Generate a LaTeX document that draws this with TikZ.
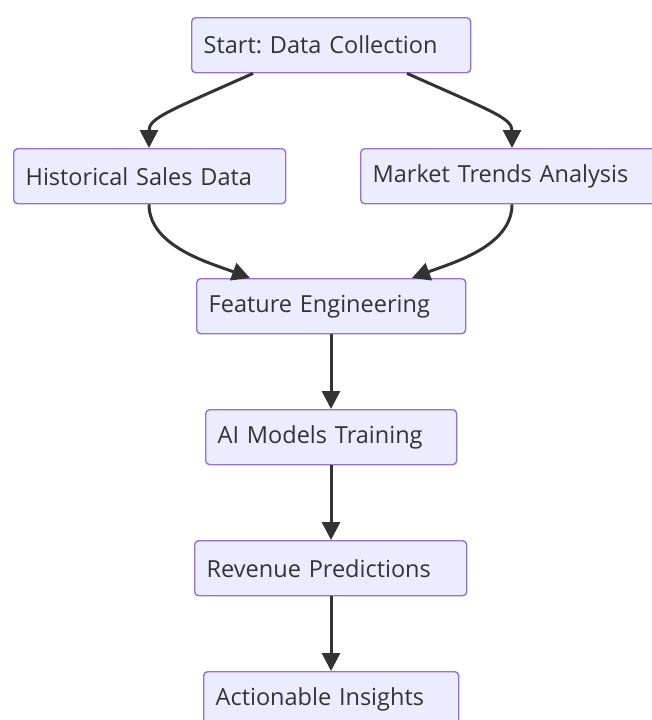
\documentclass[tikz,border=0pt]{standalone}
\usepackage{fontspec}
\setmainfont{Open Sans}
\usetikzlibrary{arrows.meta,calc}
\definecolor{boxfill}{HTML}{ECECFF}
\definecolor{boxline}{HTML}{9370DB}
\definecolor{ink}{HTML}{333333}
\begin{document}
\frenchspacing
\begin{tikzpicture}[x=1pt,y=1pt,
  box/.style={draw=boxline,fill=boxfill,line width=1.4pt,rounded corners=4pt,
    minimum height=55pt,inner xsep=12pt,inner ysep=0pt,align=left,
    text=ink,font=\fontsize{23.5}{28}\selectfont,anchor=north west},
  conn/.style={draw=ink,line width=3pt,-{Triangle[length=18pt,width=18pt]}}]
\useasboundingbox (0,0) rectangle (651,-720);
\node[box,text width=255pt] (start) at (191,-17) {Start: Data Collection};
\node[box,text width=248pt] (hist) at (13,-148) {Historical Sales Data};
\node[box,text width=280pt] (market) at (360,-148) {Market Trends Analysis};
\node[box,text width=245pt] (feat) at (196,-278) {Feature Engineering};
\node[box,text width=227pt] (ai) at (205,-409) {AI Models Training};
\node[box,text width=248pt] (rev) at (194,-540) {Revenue Predictions};
\node[box,text width=231pt] (act) at (203,-671) {Actionable Insights};
\draw[conn] ([xshift=62pt]start.south west) .. controls +(-85,-38) and +(0,30) .. ([xshift=136pt]hist.north west);
\draw[conn] ([xshift=216pt]start.south west) .. controls +(85,-38) and +(0,30) .. ([xshift=152pt]market.north west);
\draw[conn] ([xshift=136pt]hist.south west) .. controls +(0,-42) and +(-40,15) .. ([xshift=54pt]feat.north west);
\draw[conn] ([xshift=152pt]market.south west) .. controls +(0,-42) and +(40,15) .. ([xshift=216pt]feat.north west);
\draw[conn] ([xshift=135pt]feat.south west) -- ([xshift=126pt]ai.north west);
\draw[conn] ([xshift=126pt]ai.south west) -- ([xshift=137pt]rev.north west);
\draw[conn] ([xshift=137pt]rev.south west) -- ([xshift=128pt]act.north west);
\end{tikzpicture}
\end{document}
